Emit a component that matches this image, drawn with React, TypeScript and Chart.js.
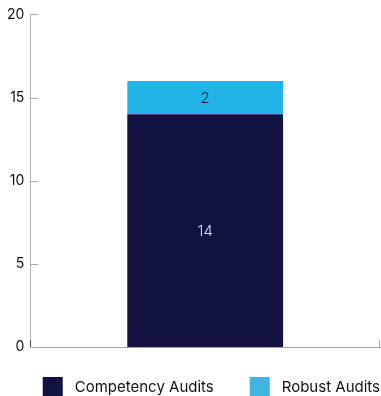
import React, { useEffect, useRef } from "react";
import { Chart, registerables } from "chart.js";

Chart.register(...registerables);

const categories = ["Audits"];
const competencyValues = [14];
const robustValues = [2];
const seriesNames = ["Competency Audits", "Robust Audits"];
const yTicks = [0, 5, 10, 15, 20];

const NAVY = "#111240";
const BLUE = "#22b3e7";
const LEGEND_BLUE = "#41b3e0";
const FONT = "Inter, 'Noto Sans', sans-serif";

const innerTicks = {
  id: "innerTicks",
  afterDraw(chart: any) {
    const ctx = chart.ctx;
    const y = chart.scales.y;
    const x = chart.scales.x;
    const area = chart.chartArea;
    ctx.save();
    ctx.strokeStyle = "#aaaaaa";
    ctx.lineWidth = 1;
    y.ticks.forEach((t: any, i: number) => {
      const py = Math.round(y.getPixelForTick(i)) + 0.5;
      ctx.beginPath();
      ctx.moveTo(area.left, py);
      ctx.lineTo(area.left + 8, py);
      ctx.stroke();
    });
    ctx.beginPath();
    ctx.moveTo(Math.round(x.right) - 0.5, area.bottom);
    ctx.lineTo(Math.round(x.right) - 0.5, area.bottom - 7);
    ctx.stroke();
    ctx.strokeStyle = "#555555";
    ctx.beginPath();
    ctx.moveTo(Math.round(x.left) + 0.5, area.bottom);
    ctx.lineTo(Math.round(x.left) + 0.5, area.bottom - 7);
    ctx.stroke();
    ctx.restore();
  },
};

const barLabels = {
  id: "barLabels",
  afterDatasetsDraw(chart: any) {
    const ctx = chart.ctx;
    const colors = ["#dcdcec", "#1b1b4a"];
    ctx.save();
    ctx.font = "300 15px " + FONT;
    ctx.textAlign = "center";
    ctx.textBaseline = "middle";
    chart.data.datasets.forEach((ds: any, di: number) => {
      const meta = chart.getDatasetMeta(di);
      meta.data.forEach((el: any, i: number) => {
        const v = ds.data[i];
        ctx.fillStyle = colors[di];
        ctx.fillText(String(v), el.x, (el.y + el.base) / 2 + 1);
      });
    });
    ctx.restore();
  },
};

const customLegend = {
  id: "customLegend",
  afterDraw(chart: any) {
    const ctx = chart.ctx;
    const boxW = 20;
    const boxH = 20;
    const gap = 12;
    const itemGap = 36;
    const legendColors = [NAVY, LEGEND_BLUE];
    ctx.save();
    ctx.font = "400 15px " + FONT;
    ctx.textBaseline = "middle";
    ctx.textAlign = "left";
    const items = chart.data.datasets.map((ds: any, i: number) => ({
      text: ds.label,
      color: legendColors[i],
      w: ctx.measureText(ds.label).width,
    }));
    const total =
      items.reduce((s: number, it: any) => s + boxW + gap + it.w, 0) +
      itemGap * (items.length - 1);
    let x = chart.width - 1 - total;
    const top = chart.chartArea.bottom + 30;
    items.forEach((it: any) => {
      ctx.fillStyle = it.color;
      ctx.fillRect(x, top, boxW, boxH);
      ctx.fillStyle = "#111111";
      ctx.fillText(it.text, x + boxW + gap, top + 10);
      x += boxW + gap + it.w + itemGap;
    });
    ctx.restore();
  },
};

export default function App() {
  const ref = useRef<HTMLCanvasElement>(null);
  useEffect(() => {
    document.body.style.margin = "0";
    const chart = new Chart(ref.current!, {
      type: "bar",
      data: {
        labels: categories,
        datasets: [
          {
            label: seriesNames[0],
            data: competencyValues,
            backgroundColor: NAVY,
            borderWidth: 0,
            categoryPercentage: 0.8,
            barPercentage: 0.557,
          },
          {
            label: seriesNames[1],
            data: robustValues,
            backgroundColor: BLUE,
            borderWidth: 0,
            categoryPercentage: 0.8,
            barPercentage: 0.557,
          },
        ],
      },
      options: {
        animation: false,
        responsive: false,
        layout: { padding: { left: 1, right: 1, top: 5, bottom: 49 } },
        plugins: {
          legend: { display: false },
          tooltip: { enabled: false },
        },
        scales: {
          x: {
            stacked: true,
            grid: { display: false, drawTicks: false },
            border: { display: true, color: "#a0a0a0" },
            ticks: { display: false },
            afterFit: (s: any) => {
              s.height = 0;
            },
          },
          y: {
            stacked: true,
            min: 0,
            max: 20,
            afterBuildTicks: (s: any) => {
              s.ticks = yTicks.map((v) => ({ value: v }));
            },
            grid: { display: false, drawTicks: false },
            border: { display: true, color: "#b0b0b0" },
            ticks: {
              padding: 6,
              color: "#111111",
              font: { family: FONT, size: 14 },
            },
          },
        },
      },
      plugins: [innerTicks, barLabels, customLegend],
    });
    return () => chart.destroy();
  }, []);
  return <canvas ref={ref} width={381} height={396} style={{ display: "block" }} />;
}
